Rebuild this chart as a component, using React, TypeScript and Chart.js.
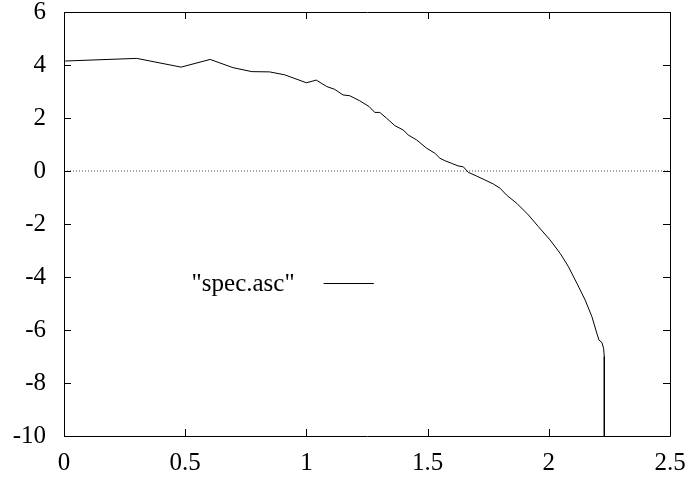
import React, { useEffect, useRef } from "react";
import { Chart, registerables } from "chart.js";

Chart.register(...registerables);

// Sampled curve of "spec.asc"
const xValues = [
  0.005, 0.3, 0.483, 0.603, 0.697, 0.775, 0.848, 0.91, 1.0, 1.041, 1.083, 1.117,
  1.151, 1.179, 1.22, 1.259, 1.282, 1.303, 1.331, 1.365, 1.399, 1.42, 1.455,
  1.496, 1.53, 1.551, 1.571, 1.599, 1.626, 1.647, 1.668, 1.702, 1.737, 1.771,
  1.799, 1.826, 1.868, 1.916, 1.957, 2.005, 2.047, 2.081, 2.116, 2.15, 2.178,
  2.198, 2.207, 2.219, 2.226, 2.229, 2.229,
];
const yValues = [
  4.15, 4.25, 3.92, 4.21, 3.9, 3.75, 3.74, 3.63, 3.33, 3.43, 3.19, 3.08, 2.87,
  2.84, 2.65, 2.43, 2.21, 2.21, 1.99, 1.71, 1.55, 1.36, 1.17, 0.86, 0.67, 0.48,
  0.39, 0.29, 0.19, 0.16, -0.05, -0.19, -0.34, -0.49, -0.65, -0.91, -1.22,
  -1.66, -2.1, -2.6, -3.11, -3.61, -4.24, -4.87, -5.5, -6.12, -6.38, -6.47,
  -6.69, -7.0, -10,
];
const seriesLabel = '"spec.asc"';
const xTicks = [0, 0.5, 1, 1.5, 2, 2.5];
const yTicks = [-10, -8, -6, -4, -2, 0, 2, 4, 6];
const zeroLineX = [0, 2.5];

const FONT = '"Liberation Serif", "Times New Roman", "DejaVu Serif", serif';
const FONT_SIZE = 25;

// Gnuplot-style frame: border with inward ticks on all four sides, plus key
const framePlugin = {
  id: "gnuFrame",
  afterDatasetsDraw(chart: any) {
    const { ctx, chartArea, scales } = chart;
    const { left, right, top, bottom } = chartArea;
    const tl = 7;
    ctx.save();
    ctx.strokeStyle = "#000";
    ctx.lineWidth = 1;
    ctx.beginPath();
    ctx.rect(Math.round(left) + 0.5, Math.round(top) + 0.5, Math.round(right - left), Math.round(bottom - top));
    ctx.stroke();
    ctx.beginPath();
    for (const v of xTicks) {
      const px = Math.round(scales.x.getPixelForValue(v)) + 0.5;
      ctx.moveTo(px, bottom);
      ctx.lineTo(px, bottom - tl);
      ctx.moveTo(px, top);
      ctx.lineTo(px, top + tl);
    }
    for (const v of yTicks) {
      const py = Math.round(scales.y.getPixelForValue(v)) + 0.5;
      ctx.moveTo(left, py);
      ctx.lineTo(left + tl, py);
      ctx.moveTo(right, py);
      ctx.lineTo(right - tl, py);
    }
    ctx.stroke();

    // key: label right-aligned, followed by a line sample
    const ds = chart.data.datasets[0];
    const keyY = Math.round(scales.y.getPixelForValue(-4.23)) + 0.5;
    const sampleStart = scales.x.getPixelForValue(1.071);
    const sampleEnd = scales.x.getPixelForValue(1.278);
    ctx.font = `${FONT_SIZE}px ${FONT}`;
    ctx.fillStyle = "#000";
    ctx.textAlign = "right";
    ctx.textBaseline = "middle";
    ctx.fillText(ds.label, sampleStart - 29, keyY + 1);
    ctx.strokeStyle = ds.borderColor;
    ctx.lineWidth = 1;
    ctx.beginPath();
    ctx.moveTo(sampleStart, keyY);
    ctx.lineTo(sampleEnd, keyY);
    ctx.stroke();
    ctx.restore();
  },
};

export default function App() {
  const canvasRef = useRef<HTMLCanvasElement | null>(null);

  useEffect(() => {
    if (!canvasRef.current) return;
    const chart = new Chart(canvasRef.current, {
      type: "scatter",
      data: {
        datasets: [
          {
            label: seriesLabel,
            data: xValues.map((x, i) => ({ x, y: yValues[i] })),
            showLine: true,
            borderColor: "#000",
            borderWidth: 1,
            pointRadius: 0,
            tension: 0,
          },
          {
            label: "zero",
            data: zeroLineX.map((x) => ({ x, y: 0 })),
            showLine: true,
            borderColor: "#444",
            borderWidth: 1,
            borderDash: [1, 2],
            pointRadius: 0,
          },
        ],
      },
      options: {
        animation: false,
        responsive: false,
        events: [],
        layout: { padding: { top: 12, right: 20, left: 0, bottom: 0 } },
        plugins: { legend: { display: false }, tooltip: { enabled: false } },
        scales: {
          x: {
            type: "linear",
            min: 0,
            max: 2.5,
            afterFit: (s: any) => {
              s.height = 42;
              s.paddingLeft = 0;
              s.paddingRight = 0;
            },
            afterBuildTicks: (s: any) => {
              s.ticks = xTicks.map((v) => ({ value: v }));
            },
            grid: { display: false, drawTicks: false },
            border: { display: false },
            ticks: {
              padding: 12,
              color: "#000",
              font: { family: FONT, size: FONT_SIZE },
              maxRotation: 0,
              autoSkip: false,
              callback: (v: any) => String(v),
            },
          },
          y: {
            type: "linear",
            min: -10,
            max: 6,
            afterFit: (s: any) => {
              s.width = 64;
              s.paddingTop = 0;
              s.paddingBottom = 0;
            },
            afterBuildTicks: (s: any) => {
              s.ticks = yTicks.map((v) => ({ value: v }));
            },
            grid: { display: false, drawTicks: false },
            border: { display: false },
            ticks: {
              padding: 18,
              color: "#000",
              font: { family: FONT, size: FONT_SIZE },
              autoSkip: false,
              callback: (v: any) => String(v),
            },
          },
        },
      },
      plugins: [framePlugin],
    });
    return () => chart.destroy();
  }, []);

  return (
    <div style={{ position: "absolute", left: 0, top: 0, width: 690, height: 478, background: "#fff" }}>
      <canvas ref={canvasRef} width={690} height={478} />
    </div>
  );
}
